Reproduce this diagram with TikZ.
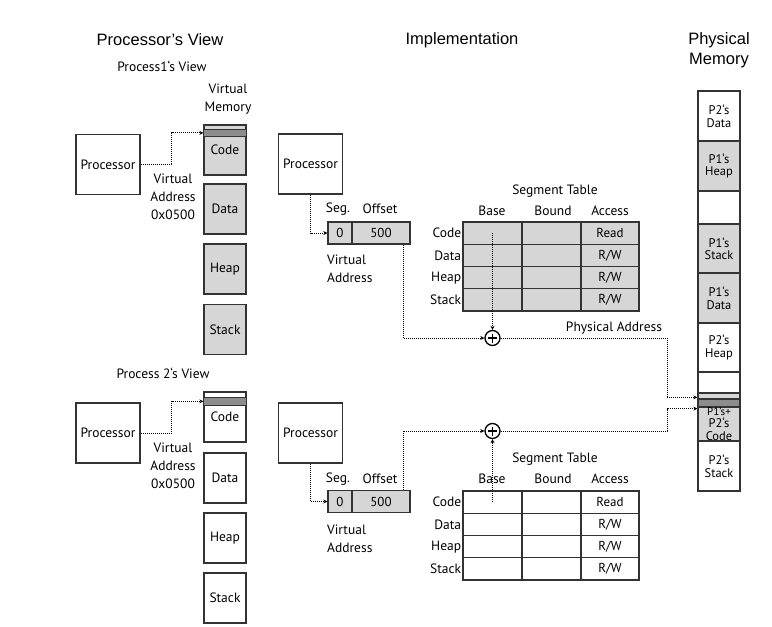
\documentclass[tikz,border=0pt]{standalone}
\usepackage{fontspec}
\setmainfont{PT Sans}
\newfontfamily\headfont{Liberation Sans}
\usetikzlibrary{arrows.meta,positioning}

\definecolor{memgray}{RGB}{214,214,214}
\definecolor{bandgray}{RGB}{140,140,140}
\newcommand{\rw}{R/W}

\begin{document}
\begin{tikzpicture}[x=1pt,y=-1pt,
		box/.style={draw=black!80,line width=1.3pt},
		proc node/.style={box,minimum width=64pt,minimum height=60pt,inner sep=1pt,font=\fontsize{13.5}{15}\selectfont},
		seg node/.style={box,minimum width=42pt,minimum height=50pt,inner sep=0pt,font=\fontsize{13.5}{15}\selectfont},
		cell/.style={box,minimum width=59pt,minimum height=22.25pt,inner sep=0pt,font=\fontsize{13}{15}\selectfont},
		mem node/.style={box,minimum width=42pt,inner sep=0pt,align=center,font=\fontsize{12.5}{12.5}\selectfont},
		lbl/.style={inner sep=1pt,font=\fontsize{13.5}{18}\selectfont},
		head/.style={font=\headfont\fontsize{16.5}{20}\selectfont,align=center},
		link/.style={densely dotted,line width=1pt,-{Stealth[length=4pt,width=4pt]}},
		sum/.style={circle,draw=black,line width=1.3pt,minimum size=15pt,inner sep=0pt}]
	\useasboundingbox (0,0) rectangle (772,627);

	% headings
	\node[head] (hproc) at (160,40) {Processor’s View};
	\node[head] (himpl) at (462,40) {Implementation};
	\node[head] (hphys) at (719,50) {Physical\\Memory};

	% ---- processor's view ----
	\node[lbl] (pv1) at (162,66) {Process1`s View};
	\node[lbl,align=center] (vmem) at (228,99) {Virtual\\Memory};
	\node[proc node] (p1) at (108,164.5) {Processor};
	\node[seg node,fill=memgray] (code1) at (225,150) {Code};
	\node[seg node,fill=memgray] (data1) at (225,209) {Data};
	\node[seg node,fill=memgray] (heap1) at (225,269) {Heap};
	\node[seg node,fill=memgray] (stack1) at (225,329.5) {Stack};
	\draw[box,fill=bandgray] ([yshift=-5pt]code1.north west) rectangle ([yshift=-12pt]code1.north east);
	\coordinate (v1in) at ([yshift=-8.5pt]code1.north west);
	\node[lbl,align=center] (va1) at (173,197) {Virtual\\Address\\0x0500};
	\draw[link] (p1.east) -- ++(31,0) |- (v1in);

	\node[lbl] (pv2) at (163,373) {Process 2`s View};
	\node[proc node] (p2) at (108,433) {Processor};
	\node[seg node] (code2) at (225,417) {Code};
	\node[seg node] (data2) at (225,478) {Data};
	\node[seg node] (heap2) at (225,538) {Heap};
	\node[seg node] (stack2) at (225,598) {Stack};
	\draw[box,fill=bandgray] ([yshift=-6pt]code2.north west) rectangle ([yshift=-14pt]code2.north east);
	\coordinate (v2in) at ([yshift=-10pt]code2.north west);
	\node[lbl,align=center] (va2) at (173,466) {Virtual\\Address\\0x0500};
	\draw[link] (p2.east) -- ++(31,0) |- (v2in);

	% ---- implementation, process 1 ----
	\node[proc node] (ip1) at (310.5,164) {Processor};
	\node[cell,fill=memgray,minimum width=24pt,minimum height=22pt] (a1seg) at (340,233) {0};
	\node[cell,fill=memgray,minimum width=58pt,minimum height=22pt] (a1off) at (381,233) {500};
	\node[lbl] at (338,209) {Seg.};
	\node[lbl] at (380,209) {Offset};
	\node[lbl,align=left,anchor=west] (vai1) at (326,269) {Virtual\\Address};
	\draw[link] (ip1.south) |- (a1seg.west);

	\node[lbl] (st1) at (555,191) {Segment Table};
	\node[lbl] at (492,211) {Base};
	\node[lbl] at (553,211) {Bound};
	\node[lbl] at (610,211) {Access};
	\foreach \lab/\acc [count=\i] in {Code/Read,Data/\rw,Heap/\rw,Stack/\rw}{
		\node[cell,fill=memgray] (t1-\i-1) at (492.5,{222+11.125+(\i-1)*22.25}) {};
		\node[cell,fill=memgray] (t1-\i-2) at (551.5,{222+11.125+(\i-1)*22.25}) {};
		\node[cell,fill=memgray,minimum width=58pt] (t1-\i-3) at (610,{222+11.125+(\i-1)*22.25}) {\acc};
		\node[lbl,anchor=east] at (t1-\i-1.west) {\lab};
	}
	\node[sum] (s1) at (492.5,338) {};
	\draw[line width=1.3pt] (s1.center) ++(-4.5,0) -- ++(9,0);
	\draw[line width=1.3pt] (s1.center) ++(0,-4.5) -- ++(0,9);
	\draw[link] (t1-1-1.center) -- (s1.north);
	\coordinate (o1) at ([xshift=22pt]a1off.south);
	\draw[link] (o1) |- (s1.west);
	\node[lbl] (pa) at (614,328) {Physical Address};

	% ---- implementation, process 2 ----
	\node[proc node] (ip2) at (310.5,433) {Processor};
	\node[cell,fill=memgray,minimum width=24pt,minimum height=22pt] (a2seg) at (340,501.5) {0};
	\node[cell,fill=memgray,minimum width=58pt,minimum height=22pt] (a2off) at (381,501.5) {500};
	\node[lbl] at (338,479) {Seg.};
	\node[lbl] at (380,479) {Offset};
	\node[lbl,align=left,anchor=west] (vai2) at (326,539) {Virtual\\Address};
	\draw[link] (ip2.south) |- (a2seg.west);

	\node[lbl] (st2) at (555,459) {Segment Table};
	\node[lbl] at (492,479) {Base};
	\node[lbl] at (553,479) {Bound};
	\node[lbl] at (610,479) {Access};
	\foreach \lab/\acc [count=\i] in {Code/Read,Data/\rw,Heap/\rw,Stack/\rw}{
		\node[cell] (t2-\i-1) at (492.5,{491+11.125+(\i-1)*22.25}) {};
		\node[cell] (t2-\i-2) at (551.5,{491+11.125+(\i-1)*22.25}) {};
		\node[cell,minimum width=58pt] (t2-\i-3) at (610,{491+11.125+(\i-1)*22.25}) {\acc};
		\node[lbl,anchor=east] at (t2-\i-1.west) {\lab};
	}
	\node[sum] (s2) at (492.5,431) {};
	\draw[line width=1.3pt] (s2.center) ++(-4.5,0) -- ++(9,0);
	\draw[line width=1.3pt] (s2.center) ++(0,-4.5) -- ++(0,9);
	\draw[link] (t2-1-1.center) -- (s2.south);
	\coordinate (o2) at ([xshift=22pt]a2off.north);
	\draw[link] (o2) |- (s2.west);

	% ---- physical memory ----
	\foreach \top/\bot/\col/\txt [count=\k] in {
		91/141/white/{P2`s\\Data},
		141/191/memgray/{P1`s\\Heap},
		191/224/white/{},
		224/273/memgray/{P1`s\\Stack},
		273/323/memgray/{P1`s\\Data},
		323/372/white/{P2`s\\Heap},
		372/393/white/{},
		393/399/memgray/{},
		399/407/bandgray/{},
		407/441/memgray/{\fontsize{11}{9.2}\selectfont P1’s+\\P2`s\\Code},
		441/491/white/{P2`s\\Stack}}{
		\node[mem node,fill=\col,minimum height={(\bot-\top)*1pt}] (pm\k) at (719,{(\top+\bot)/2}) {\txt};
	}
	\coordinate (pin1) at ([yshift=1pt]pm9.north west);
	\coordinate (pin2) at ([yshift=-1pt]pm9.south west);
	\draw[link] (s1.east) -- (667,338) |- (pin1);
	\draw[link] (s2.east) -- (667,431) |- (pin2);
\end{tikzpicture}
\end{document}
